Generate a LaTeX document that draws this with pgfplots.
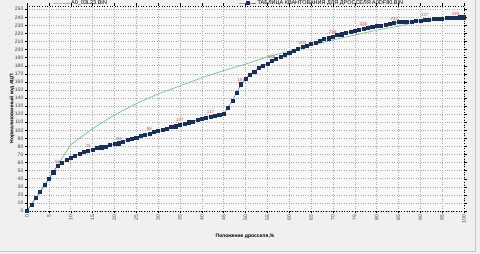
\documentclass[border=0pt]{standalone}
\usepackage{fontspec}
\setmainfont{Liberation Sans}
\setsansfont{Liberation Sans}
\usepackage{pgfplots}
\pgfplotsset{compat=1.18}
\definecolor{bg}{HTML}{F0F0F0}
\definecolor{plotbg}{HTML}{F7F7F7}
\definecolor{navy}{HTML}{1B2F55}
\definecolor{linkblue}{HTML}{4A7EBB}
\definecolor{greenl}{HTML}{6DBB95}
\definecolor{lblred}{HTML}{B35A5A}
\definecolor{gridc}{HTML}{A8A8A8}
\begin{document}
\begin{tikzpicture}[x=1pt,y=1pt]
\clip (0,0) rectangle (480,254);
\fill[bg] (0,0) rectangle (480,254);
\draw[gray!45, line width=0.8pt] (0,2.5) -- (475,2.5) -- (475,254);
\begin{axis}[
  at={(27pt,43pt)}, anchor=south west,
  scale only axis, width=437pt, height=205pt,
  xmin=0, xmax=100, ymin=0, ymax=254,
  axis background/.style={fill=plotbg},
  axis line style={draw=none},
  xtick={0,5,...,100}, ytick={0,10,...,250},
  grid=major,
  major grid style={gridc, dotted, line width=0.5pt},
  tick align=outside, major tick length=2.5pt,
  tick style={black, line width=0.4pt},
  /pgf/number format/assume math mode=true,
  ticklabel style={font=\fontsize{5}{6}\selectfont, text=black!75},
  xticklabel style={rotate=90, anchor=east, inner sep=1pt},
  yticklabel style={inner sep=1pt},
  xlabel={\textbf{Положение дросселя,\%}},
  xlabel style={at={(axis description cs:0.4989,-0.1254)}, anchor=center, font=\fontsize{5}{6}\selectfont},
  ylabel={\textbf{Нормализованный код АЦП}},
  ylabel style={at={(axis description cs:-0.0343,0.5)}, anchor=center, rotate=0, font=\fontsize{5}{6}\selectfont},
  legend columns=2,
  legend style={at={(axis description cs:0.058,1.0146)}, anchor=west, draw=none, fill=none,
    font=\fontsize{5.5}{6}\selectfont, inner sep=0pt,
    nodes={inner sep=1pt},
    /tikz/every even column/.append style={column sep=131pt}},
  clip=false,
]
\addplot[greenl, line width=0.6pt, mark=none] coordinates {
(0,0) (5,40) (10,82) (15,102) (20,119) (25,133) (30,145) (35,155) (40,165) (45,174)
(50,182) (55,191) (60,198) (65,205) (70,212) (75,218) (80,224) (85,229) (90,235) (95,238) (100,240)
};
\addlegendentry{A0\_03L23.BIN}
\addplot[linkblue, line width=0.5pt, mark=square*, mark size=1.55pt, mark options={fill=navy, draw=navy}] table[row sep=\\] {
x y\\
0 0\\ 1 8\\ 2 16\\ 3 24\\ 4 32\\ 5 40\\ 6 48\\ 7 56\\ 8 60\\ 9 63\\
10 66\\ 11 69\\ 12 71\\ 13 73\\ 14 75\\ 15 76\\ 16 78\\ 17 79\\ 18 80\\ 19 82\\
20 83\\ 21 84\\ 22 86\\ 23 88\\ 24 89\\ 25 91\\ 26 93\\ 27 94\\ 28 96\\ 29 98\\
30 99\\ 31 101\\ 32 102\\ 33 104\\ 34 105\\ 35 107\\ 36 108\\ 37 110\\ 38 111\\ 39 113\\
40 114\\ 41 116\\ 42 117\\ 43 118\\ 44 119\\ 45 120\\ 46 128\\ 47 137\\ 48 147\\ 49 157\\
50 164\\ 51 169\\ 52 173\\ 53 177\\ 54 180\\ 55 183\\ 56 186\\ 57 189\\ 58 191\\ 59 194\\
60 196\\ 61 198\\ 62 201\\ 63 203\\ 64 205\\ 65 207\\ 66 209\\ 67 211\\ 68 213\\ 69 214\\
70 216\\ 71 218\\ 72 219\\ 73 221\\ 74 222\\ 75 223\\ 76 225\\ 77 226\\ 78 227\\ 79 228\\
80 229\\ 81 230\\ 82 231\\ 83 232\\ 84 233\\ 85 234\\ 86 234\\ 87 235\\ 88 235\\ 89 236\\
90 236\\ 91 237\\ 92 237\\ 93 238\\ 94 238\\ 95 238\\ 96 239\\ 97 239\\ 98 239\\ 99 240\\
100 240\\
};
\addlegendentry{ТАБЛИЦА КВАНТОВАНИЯ ДЛЯ ДРОССЕЛЯ A0DF80.BIN}
\addplot[draw=none, mark=none, forget plot,
  nodes near coords, point meta=y,
  nodes near coords style={font=\fontsize{4.5}{5}\selectfont, text=lblred, anchor=south, inner sep=0.5pt, yshift=2pt,
    /pgf/number format/assume math mode=true}]
coordinates {(7,56) (14,75) (21,84) (28,96) (35,107) (42,117) (49,157) (56,186) (63,203) (70,216) (77,226) (84,233) (91,237) (98,239)};
\draw[black, line width=1pt] (rel axis cs:0,0) -- (rel axis cs:0,1);
\draw[black, dotted, line width=0.6pt] (rel axis cs:0,0) -- (rel axis cs:1,0) -- (rel axis cs:1,1) -- (rel axis cs:0,1);
\end{axis}
\end{tikzpicture}
\end{document}
